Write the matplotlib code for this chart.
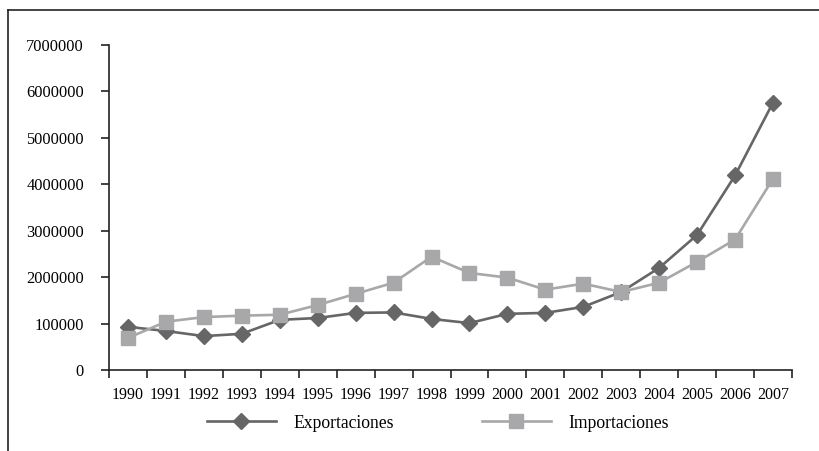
import matplotlib
matplotlib.use("Agg")
import matplotlib.pyplot as plt
from matplotlib.lines import Line2D
import numpy as np

years = ["1990", "1991", "1992", "1993", "1994", "1995", "1996", "1997", "1998",
         "1999", "2000", "2001", "2002", "2003", "2004", "2005", "2006", "2007"]
exportaciones = [930000, 840000, 730000, 780000, 1080000, 1120000, 1230000, 1240000, 1100000,
                 1010000, 1210000, 1230000, 1360000, 1680000, 2200000, 2910000, 4190000, 5760000]
importaciones = [690000, 1040000, 1140000, 1170000, 1190000, 1400000, 1640000, 1880000, 2440000,
                 2090000, 1990000, 1730000, 1860000, 1680000, 1880000, 2330000, 2810000, 4120000]
ytick_values = [0, 1000000, 2000000, 3000000, 4000000, 5000000, 6000000, 7000000]
ytick_labels = ["0", "100000", "2000000", "3000000", "4000000", "5000000", "6000000", "7000000"]
series_names = ["Exportaciones", "Importaciones"]

plt.rcParams['font.family'] = ['Liberation Serif', 'DejaVu Serif']

fig = plt.figure(figsize=(8.19, 4.51), dpi=100)
ax = fig.add_axes([109/819, 1 - 370/451, (792 - 109)/819, (370 - 45)/451])

x = np.arange(len(years))
c_exp = "#666666"
c_imp = "#a8a8aa"
ax.plot(x, exportaciones, color=c_exp, lw=1.9, marker="D", ms=7.8, mec=c_exp, mfc=c_exp,
        label=series_names[0], zorder=3)
ax.plot(x, importaciones, color=c_imp, lw=1.9, marker="s", ms=9.6, mec=c_imp, mfc=c_imp,
        label=series_names[1], zorder=4)

ax.set_xlim(-0.5, len(years) - 0.5)
ax.set_ylim(0, 7000000)
ax.set_yticks(ytick_values)
ax.set_yticklabels(ytick_labels, fontsize=11.8)
ax.set_xticks(np.arange(-0.5, len(years), 1.0))
ax.set_xticklabels([])
ax.set_xticks(x, minor=True)
ax.set_xticklabels(years, minor=True, fontsize=11.5)
ax.tick_params(axis="x", which="major", length=6, width=1.2, direction="out", color="#222222")
ax.tick_params(axis="x", which="minor", length=0, pad=12)
ax.tick_params(axis="y", length=6, width=1.2, direction="out", color="#222222", pad=12)

for s in ["top", "right"]:
    ax.spines[s].set_visible(False)
for s in ["left", "bottom"]:
    ax.spines[s].set_linewidth(1.2)
    ax.spines[s].set_color("#222222")

# outer frame (top and left edges)
fig.add_artist(Line2D([8/819, 1.0], [1 - 10/451, 1 - 10/451], transform=fig.transFigure,
                      color="#222222", lw=1.2))
fig.add_artist(Line2D([8/819, 8/819], [0, 1 - 10/451], transform=fig.transFigure,
                      color="#222222", lw=1.2))

leg = fig.legend(loc="center", bbox_to_anchor=(438/819, 1 - 423/451), ncol=2, frameon=False,
                 fontsize=12.7, handlelength=3.9, handletextpad=1.0, columnspacing=5.0)

fig.savefig("out.png", dpi=100)
